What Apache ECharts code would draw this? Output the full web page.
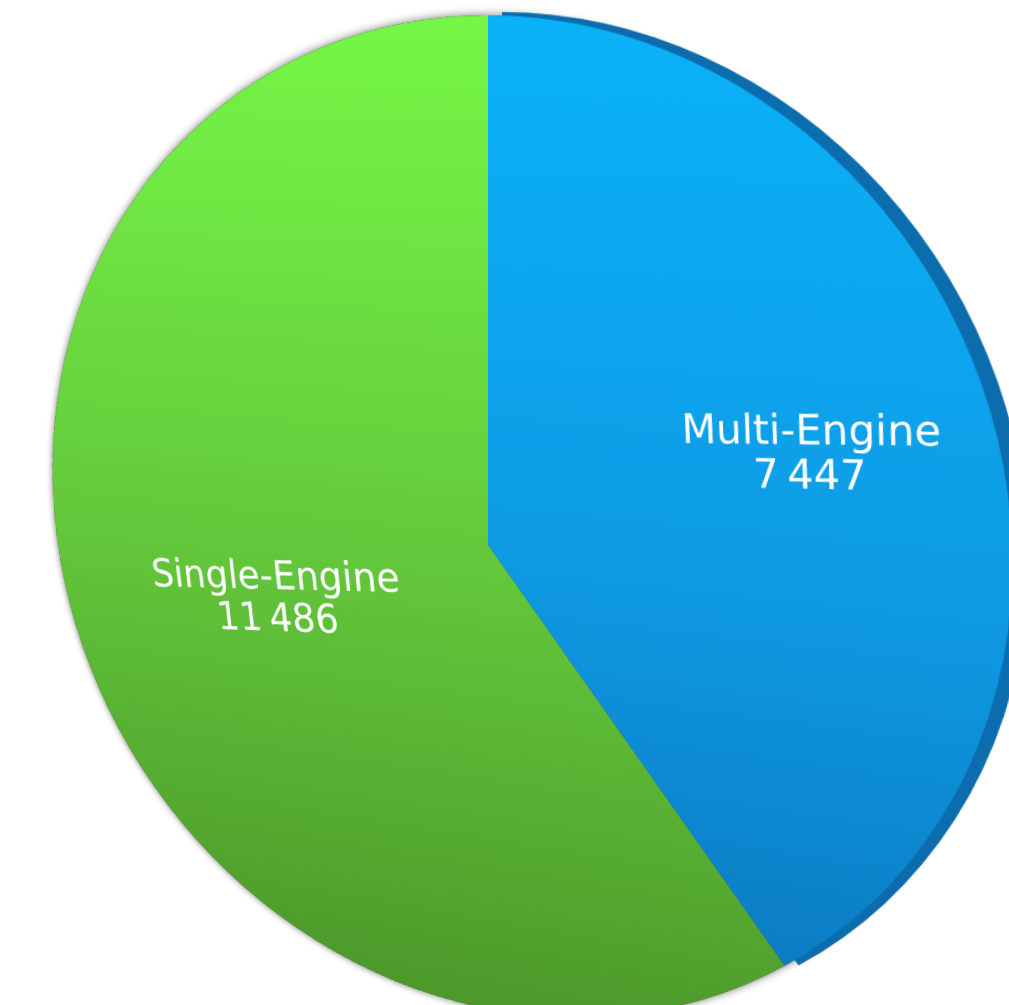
<!DOCTYPE html>
<html>
<head>
<meta charset="utf-8">
<script src="https://cdn.jsdelivr.net/npm/echarts@6/dist/echarts.min.js"></script>
<style>
  html, body { margin: 0; padding: 0; width: 1009px; height: 1005px; overflow: hidden; background: #ffffff; }
  #chart {
    position: absolute; left: -150px; top: -100px; width: 1300px; height: 1300px;
    transform-origin: 638px 645px;
    transform: perspective(2000px) rotateX(-15deg) rotateY(-22deg);
  }
</style>
</head>
<body>
<div id="chart"></div>
<script>
// ---- data ----
const categories = ['Multi-Engine', 'Single-Engine'];
const values = [7447, 11486];

// ---- styles ----
const faceTop = ['#0AB2F8', '#76F646'];
const faceMid = ['#0E9BE5', '#62C53A'];
const faceBottom = ['#0B7CC4', '#4C982A'];
const rimColors = ['#0B6DAE', 'transparent'];
const labelRadialScale = [1.32, 0.99];
const labelFontSize = [39, 43];
const labelRotate = [4, 5];
const CENTER = [638, 645];
const RADIUS = 512;

function fmt(v) {
  return String(v).replace(/\B(?=(\d{3})+(?!\d))/g, '\u2009');
}

const chart = echarts.init(document.getElementById('chart'), null, { renderer: 'canvas' });

const faceData = categories.map((name, i) => ({
  name, value: values[i],
  itemStyle: {
    color: new echarts.graphic.LinearGradient(0, 0, 0, 1, [
      { offset: 0, color: faceTop[i] },
      { offset: 0.55, color: faceMid[i] },
      { offset: 1, color: faceBottom[i] }
    ])
  },
  label: { fontSize: labelFontSize[i], lineHeight: labelFontSize[i] + 3, rotate: labelRotate[i] }
}));

const rimData = categories.map((name, i) => ({
  name, value: values[i], itemStyle: { color: rimColors[i] }
}));

const shadowData = categories.map((name, i) => ({
  name, value: values[i], itemStyle: { color: '#2a3a2a' }
}));

chart.setOption({
  animation: false,
  series: [
    {
      type: 'pie', z: 1, silent: true,
      center: CENTER, radius: RADIUS, startAngle: 90, clockwise: true,
      label: { show: false }, labelLine: { show: false },
      itemStyle: { shadowBlur: 8, shadowColor: 'rgba(0,0,0,0.55)', borderWidth: 0 },
      data: shadowData
    },
    {
      type: 'pie', z: 2, silent: true,
      center: [CENTER[0] + 14, CENTER[1] - 3], radius: RADIUS, startAngle: 90, clockwise: true,
      label: { show: false }, labelLine: { show: false },
      itemStyle: { borderWidth: 0 },
      data: rimData
    },
    {
      type: 'pie', z: 3,
      center: CENTER, radius: RADIUS, startAngle: 90, clockwise: true,
      itemStyle: { borderWidth: 0 },
      label: {
        show: true, position: 'inside',
        color: '#ffffff', fontFamily: 'DejaVu Sans', fontSize: 39, lineHeight: 42,
        formatter: p => p.name + '\n' + fmt(p.value)
      },
      labelLine: { show: false },
      labelLayout: function (params) {
        const r = params.labelRect;
        const lx = r.x + r.width / 2, ly = r.y + r.height / 2;
        const k = labelRadialScale[params.dataIndex];
        return { dx: (lx - CENTER[0]) * (k - 1), dy: (ly - CENTER[1]) * (k - 1) };
      },
      data: faceData
    }
  ]
});
</script>
</body>
</html>
